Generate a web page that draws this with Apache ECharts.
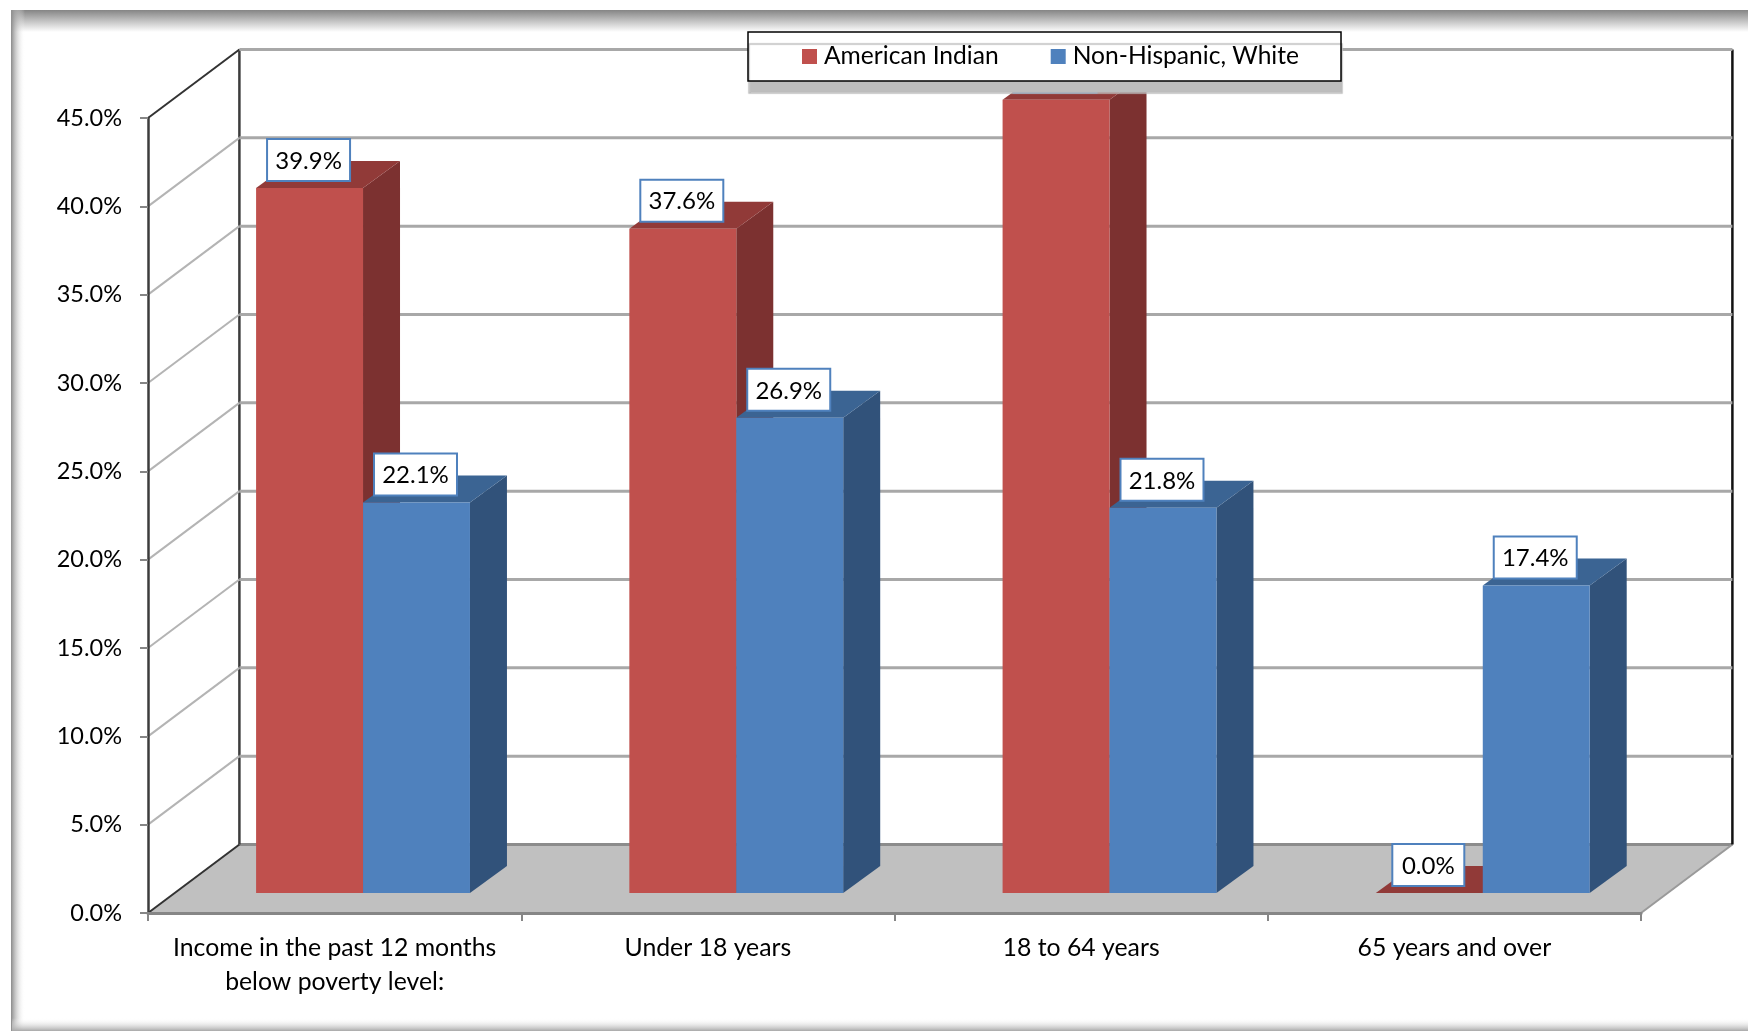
<!DOCTYPE html>
<html><head><meta charset="utf-8">
<style>html,body{margin:0;padding:0;background:#fff}#c{width:1748px;height:1031px}</style>
<script src="https://cdn.jsdelivr.net/npm/echarts@6/dist/echarts.min.js"></script>
</head><body><div id="c"></div>
<script>
const categories = ['Income in the past 12 months\nbelow poverty level:', 'Under 18 years', '18 to 64 years', '65 years and over'];
const americanIndian = [39.9, 37.6, 44.9, 0.0];
const nonHispanicWhite = [22.1, 26.9, 21.8, 17.4];
const yTicks = [0, 5, 10, 15, 20, 25, 30, 35, 40, 45];

const FONT = 'Lato, "Open Sans", sans-serif';
const WALL_DX = 91.4, WALL_DY = 68.5;
const SHIFT_X = 28.4, SHIFT_Y = 20;
const BAR_DX = 37, BAR_DY = 27, BAR_W_RATIO = 0.2865;

function wallItem(params, api) {
  const g = params.coordSys;
  const v = api.value(1);
  const y = api.coord([0, v])[1];
  const xL = g.x, xR = g.x + g.width;
  const kids = [];
  const ln = (x1, y1, x2, y2, stroke, w) => ({type: 'line', shape: {x1, y1, x2, y2}, style: {stroke, lineWidth: w}});
  if (v === 0) {
    const top = api.coord([0, 45])[1];
    kids.push({type: 'polygon', shape: {points: [[xL, y], [xL + WALL_DX, y - WALL_DY], [xR + WALL_DX, y - WALL_DY], [xR, y]]}, style: {fill: '#c0c0c0'}});
    kids.push(ln(xL + WALL_DX, y - WALL_DY, xR + WALL_DX, y - WALL_DY, '#8c8c8c', 3));
    kids.push(ln(xR, y, xR + WALL_DX, y - WALL_DY, '#9a9a9a', 2));
    kids.push(ln(xL, y, xL + WALL_DX, y - WALL_DY, '#333', 2));
    kids.push(ln(xL + WALL_DX, top - WALL_DY, xL + WALL_DX, y - WALL_DY, '#3c3c3c', 2.5));
    kids.push(ln(xR + WALL_DX, top - WALL_DY, xR + WALL_DX, y - WALL_DY, '#111', 2.5));
  } else {
    const diag = v === 45 ? '#333' : '#b4b4b4';
    kids.push(ln(xL, y, xL + WALL_DX, y - WALL_DY, diag, 2));
    kids.push(ln(xL + WALL_DX, y - WALL_DY, xR + WALL_DX, y - WALL_DY, '#a8a8a8', 3));
  }
  return {type: 'group', children: kids};
}

function barItem(colors, side) {
  return function (params, api) {
    const v = api.value(1);
    const band = api.size([1, 0])[0];
    const w = band * BAR_W_RATIO;
    const c = api.coord([api.value(0), v]);
    const b = api.coord([api.value(0), 0]);
    const xl = c[0] + SHIFT_X + (side < 0 ? -w : 0), xr = xl + w;
    const yt = c[1] - SHIFT_Y, yb = b[1] - SHIFT_Y;
    const lw = v >= 10 ? 83 : 72, lh = 42;
    const cx = (xl + xr) / 2 - 1, ly = yt - 7 - lh;
    const kids = [
      {type: 'polygon', shape: {points: [[xr, yt], [xr + BAR_DX, yt - BAR_DY], [xr + BAR_DX, yb - BAR_DY], [xr, yb]]}, style: {fill: colors.side}},
      {type: 'polygon', shape: {points: [[xl, yt], [xl + BAR_DX, yt - BAR_DY], [xr + BAR_DX, yt - BAR_DY], [xr, yt]]}, style: {fill: colors.top}},
      {type: 'rect', shape: {x: xl, y: yt, width: w, height: yb - yt}, style: {fill: colors.front}},
      {type: 'rect', shape: {x: cx - lw / 2, y: ly, width: lw, height: lh}, style: {fill: '#fff', stroke: '#4f81bd', lineWidth: 2}},
      {type: 'text', style: {text: v.toFixed(1) + '%', x: cx, y: ly + lh / 2 + 1, align: 'center', verticalAlign: 'middle', fill: '#000', font: '24px ' + FONT}}
    ];
    return {type: 'group', children: kids};
  };
}

const chart = echarts.init(document.getElementById('c'), null, {renderer: 'canvas'});
const pairs = arr => arr.map((v, i) => [i, v]);
const grad = (x, y, x2, y2, a, b) => ({type: 'linear', x, y, x2, y2, colorStops: [{offset: 0, color: a}, {offset: 1, color: b}]});

chart.setOption({
  animation: false,
  backgroundColor: '#fff',
  graphic: [
    {type: 'rect', z: 0, shape: {x: 12, y: 10, width: 1736, height: 22}, style: {fill: grad(0, 0, 0, 1, '#858585', '#ffffff')}},
    {type: 'rect', z: 0, shape: {x: 11, y: 10, width: 14, height: 1021}, style: {fill: grad(0, 0, 1, 0, '#8a8a8a', 'rgba(255,255,255,0)')}},
    {type: 'rect', z: 0, shape: {x: 12, y: 1018, width: 1736, height: 13}, style: {fill: grad(0, 0, 0, 1, 'rgba(255,255,255,0)', '#a8a8a8')}}
  ],
  grid: {left: 148, right: 107, top: 118, bottom: 118, containLabel: false},
  legend: {
    data: ['American Indian', 'Non-Hispanic, White'],
    left: 748, top: 32, z: 20,
    orient: 'horizontal',
    icon: 'rect', itemWidth: 15, itemHeight: 15, itemGap: 52,
    padding: [12, 42, 12, 54],
    backgroundColor: '#fff', borderColor: '#000', borderWidth: 1.5, borderRadius: 0,
    shadowColor: '#bdbdbd', shadowBlur: 1, shadowOffsetY: 12, shadowOffsetX: 1,
    textStyle: {fontFamily: FONT, fontSize: 24.6, color: '#000', padding: [0, 0, 0, 2]},
    selectedMode: false
  },
  xAxis: {
    type: 'category', data: categories, z: 3,
    axisLine: {show: true, lineStyle: {color: '#868686', width: 3}},
    axisTick: {show: true, length: 8, alignWithLabel: false, lineStyle: {color: '#868686', width: 2}},
    axisLabel: {color: '#000', fontFamily: FONT, fontSize: 24.8, lineHeight: 34, margin: 18, interval: 0},
    splitLine: {show: false}
  },
  yAxis: {
    type: 'value', min: 0, max: 45, interval: 5, z: 3,
    axisLine: {show: true, lineStyle: {color: '#3c3c3c', width: 2.5}},
    axisTick: {show: true, length: 8, lineStyle: {color: '#868686', width: 2}},
    axisLabel: {color: '#000', fontFamily: FONT, fontSize: 23.5, margin: 26, formatter: v => v.toFixed(1) + '%'},
    splitLine: {show: false}
  },
  series: [
    {type: 'custom', name: 'walls', z: 1, silent: true, renderItem: wallItem, data: pairs(yTicks).map(p => [0, p[1]]), encode: {x: 0, y: 1}},
    {type: 'custom', name: 'American Indian', z: 5, silent: true, itemStyle: {color: '#c0504d'}, renderItem: barItem({front: '#c0504d', side: '#7c3130', top: '#913a38'}, -1), data: pairs(americanIndian), encode: {x: 0, y: 1}},
    {type: 'custom', name: 'Non-Hispanic, White', z: 5, silent: true, itemStyle: {color: '#4f81bd'}, renderItem: barItem({front: '#4f81bd', side: '#31527a', top: '#3b6493'}, 1), data: pairs(nonHispanicWhite), encode: {x: 0, y: 1}}
  ]
});
</script></body></html>
